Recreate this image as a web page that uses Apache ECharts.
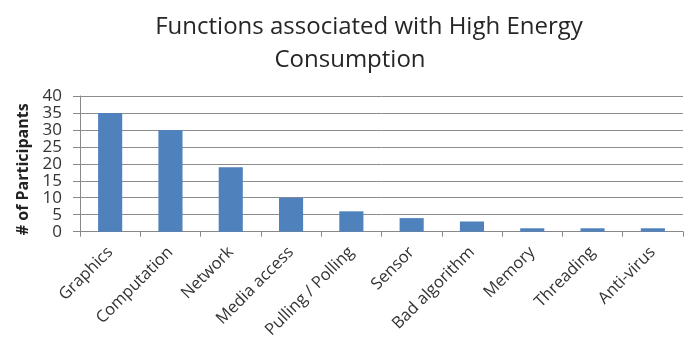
<!DOCTYPE html>
<html><head><meta charset="utf-8">
<script src="https://cdn.jsdelivr.net/npm/echarts@6/dist/echarts.min.js"></script>
<style>html,body{margin:0;padding:0;background:#fff}#c{width:691px;height:341px}</style>
</head><body><div id="c"></div>
<script>
const categories = ["Graphics","Computation","Network","Media access","Pulling / Polling","Sensor","Bad algorithm","Memory","Threading","Anti-virus"];
const participants = [35,30,19,10,6,4,3,1,1,1];
const yTicks = [0,5,10,15,20,25,30,35,40];
const titleLines = ["Functions associated with High Energy", "Consumption"];

const titleStyle = {fontFamily:'Open Sans', fontWeight:'normal', fontSize:24, color:'#262626', lineHeight:30};
const chart = echarts.init(document.getElementById('c'), null, {renderer:'canvas'});
chart.setOption({
  animation:false,
  title:[
    {text:titleLines[0], left:364, top:7, textAlign:'center', textStyle:titleStyle},
    {text:titleLines[1], left:345, top:40, textAlign:'center', textStyle:titleStyle}
  ],
  grid:{left:80, right:8, top:96, bottom:109},
  xAxis:{type:'category', data:categories,
    axisLine:{lineStyle:{color:'#888', width:1}},
    axisTick:{show:true, alignWithLabel:false, length:5, lineStyle:{color:'#888'}},
    axisLabel:{rotate:45, interval:0, fontFamily:'Open Sans', fontSize:16.5, color:'#333', margin:18}},
  yAxis:{type:'value', min:0, max:40, interval:5,
    name:'# of Participants', nameLocation:'middle', nameGap:47, nameRotate:90,
    nameTextStyle:{fontFamily:'Open Sans', fontWeight:'bold', fontSize:16, color:'#222', padding:[0,11,0,0]},
    axisLine:{show:true, lineStyle:{color:'#888'}},
    axisTick:{show:true, length:7, lineStyle:{color:'#888'}},
    axisLabel:{fontFamily:'Open Sans', fontSize:17, lineHeight:13, color:'#333', margin:18,
      showMinLabel:true, showMaxLabel:true, hideOverlap:false,
      formatter:v=>yTicks.includes(v)?String(v):''},
    splitLine:{show:true, lineStyle:{color:'#8c8c8c', width:1}}},
  series:[{type:'bar', data:participants, barWidth:'40%', itemStyle:{color:'#4F81BD'}}]
});
</script></body></html>
